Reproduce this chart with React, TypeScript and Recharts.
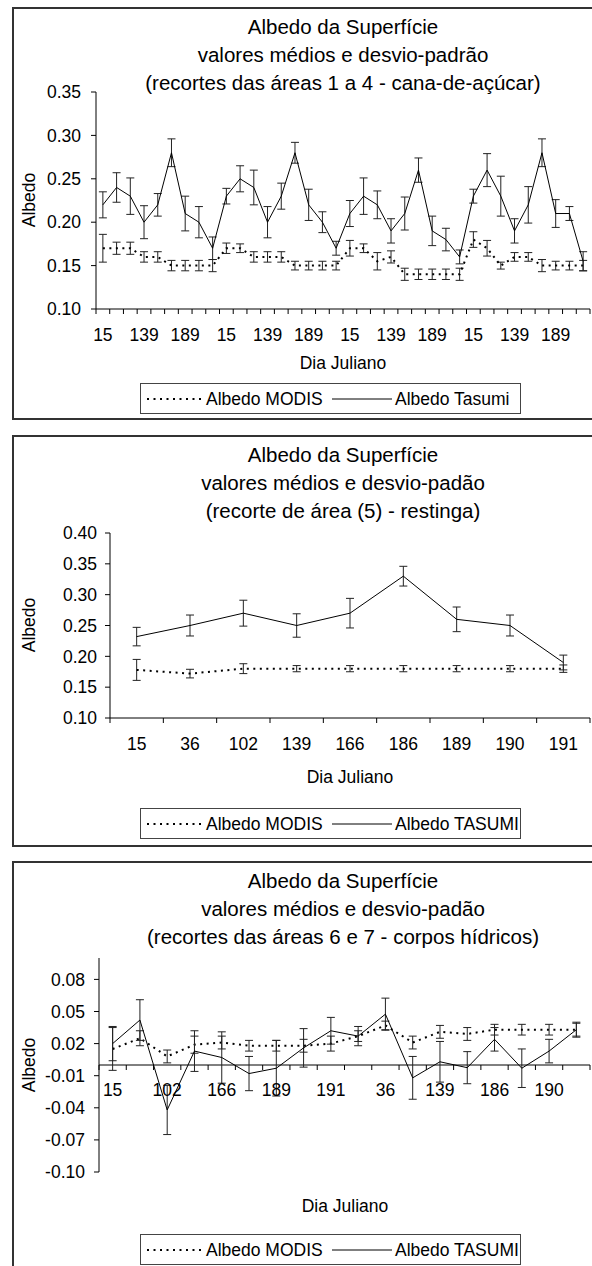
import React from 'react';
import { LineChart, Line, XAxis, YAxis, ErrorBar, ReferenceLine } from 'recharts';

const FONT = '"Liberation Sans", Arial, Helvetica, sans-serif';

// ---------- Chart 1: áreas 1 a 4 - cana-de-açúcar ----------
const days1 = [
  '15', '36', '102', '139', '166', '186', '189', '190', '191',
  '15', '36', '102', '139', '166', '186', '189', '190', '191',
  '15', '36', '102', '139', '166', '186', '189', '190', '191',
  '15', '36', '102', '139', '166', '186', '189', '190', '191',
];
const modis1 = [
  0.17, 0.17, 0.17, 0.16, 0.16, 0.15, 0.15, 0.15, 0.15,
  0.17, 0.17, 0.16, 0.16, 0.16, 0.15, 0.15, 0.15, 0.15,
  0.17, 0.17, 0.155, 0.16, 0.14, 0.14, 0.14, 0.14, 0.14,
  0.18, 0.17, 0.15, 0.16, 0.16, 0.15, 0.15, 0.15, 0.15,
];
const modisErr1 = [
  0.016, 0.007, 0.007, 0.006, 0.006, 0.006, 0.006, 0.006, 0.007,
  0.006, 0.005, 0.006, 0.006, 0.006, 0.005, 0.005, 0.005, 0.005,
  0.009, 0.005, 0.01, 0.007, 0.007, 0.006, 0.006, 0.006, 0.007,
  0.009, 0.009, 0.004, 0.005, 0.005, 0.007, 0.005, 0.005, 0.006,
];
const tasumi1 = [
  0.22, 0.24, 0.23, 0.2, 0.22, 0.28, 0.21, 0.2, 0.17,
  0.23, 0.25, 0.24, 0.2, 0.23, 0.28, 0.22, 0.2, 0.17,
  0.21, 0.23, 0.22, 0.19, 0.21, 0.26, 0.19, 0.18, 0.16,
  0.23, 0.26, 0.23, 0.19, 0.22, 0.28, 0.21, 0.21, 0.155,
];
const tasumiErr1 = [
  0.015, 0.017, 0.021, 0.019, 0.013, 0.016, 0.02, 0.018, 0.013,
  0.009, 0.015, 0.02, 0.018, 0.015, 0.012, 0.018, 0.012, 0.008,
  0.015, 0.021, 0.016, 0.014, 0.019, 0.014, 0.017, 0.013, 0.008,
  0.008, 0.019, 0.023, 0.014, 0.021, 0.016, 0.016, 0.008, 0.011,
];
const yTicks1 = [0.1, 0.15, 0.2, 0.25, 0.3, 0.35];

// ---------- Chart 2: área 5 - restinga ----------
const days2 = ['15', '36', '102', '139', '166', '186', '189', '190', '191'];
const modis2 = [0.178, 0.172, 0.18, 0.18, 0.18, 0.18, 0.18, 0.18, 0.18];
const modisErr2 = [0.017, 0.007, 0.008, 0.005, 0.005, 0.005, 0.005, 0.005, 0.006];
const tasumi2 = [0.232, 0.25, 0.27, 0.25, 0.27, 0.33, 0.26, 0.25, 0.19];
const tasumiErr2 = [0.015, 0.017, 0.021, 0.019, 0.024, 0.016, 0.02, 0.017, 0.012];
const yTicks2 = [0.1, 0.15, 0.2, 0.25, 0.3, 0.35, 0.4];

// ---------- Chart 3: áreas 6 e 7 - corpos hídricos ----------
const days3 = [
  '15', '36', '102', '139', '166', '186', '189', '190', '191',
  '15', '36', '102', '139', '166', '186', '189', '190', '191',
];
const modis3 = [
  0.015, 0.025, 0.008, 0.019, 0.021, 0.018, 0.018, 0.018, 0.02,
  0.027, 0.037, 0.021, 0.031, 0.029, 0.033, 0.033, 0.033, 0.033,
];
const modisErr3 = [
  0.02, 0.007, 0.006, 0.008, 0.006, 0.005, 0.005, 0.006, 0.007,
  0.005, 0.004, 0.006, 0.006, 0.006, 0.005, 0.005, 0.005, 0.006,
];
const tasumi3 = [
  0.02, 0.042, -0.042, 0.013, 0.007, -0.008, -0.003, 0.016, 0.032,
  0.027, 0.0475, -0.012, 0.003, -0.0025, 0.024, -0.003, 0.013, 0.033,
];
const tasumiErr3 = [
  0.016, 0.019, 0.023, 0.019, 0.024, 0.016, 0.026, 0.018, 0.0125,
  0.009, 0.015, 0.02, 0.019, 0.015, 0.011, 0.018, 0.011, 0.007,
];
const yTicks3 = [-0.1, -0.07, -0.04, -0.01, 0.02, 0.05, 0.08];

function buildRows(cats: string[], m: number[], me: number[], t: number[], te: number[]) {
  return cats.map((c, i) => ({
    x: i + 0.5,
    day: c,
    modis: m[i],
    modisErr: me[i],
    tasumi: t[i],
    tasumiErr: te[i],
  }));
}

function buildXTicks(n: number, every: number) {
  const ticks: number[] = [];
  for (let i = 0; i <= n; i++) ticks.push(i);
  for (let i = 0; i < n; i += every) ticks.push(i + 0.5);
  return ticks.sort((a, b) => a - b);
}

const TXT = 17.5;
const DOTS = '2 4.5';

function CatTick(props: any) {
  const { x, y, payload, cats, shift, labelDy } = props;
  const v = payload.value as number;
  const yy = y + shift;
  if (Number.isInteger(v)) {
    return <line x1={x} x2={x} y1={yy} y2={yy + 5} stroke="#000" strokeWidth={1} />;
  }
  return (
    <text
      x={x}
      y={yy + labelDy}
      textAnchor="middle"
      dominantBaseline="central"
      fontSize={TXT}
      fontFamily={FONT}
      fill="#000"
    >
      {cats[Math.floor(v)]}
    </text>
  );
}

type ChartProps = {
  top: number;
  height: number;
  plotTop: number;
  plotBottom: number;
  plotLeft: number;
  cats: string[];
  rows: any[];
  yDomain: [number, number];
  yTicks: number[];
  labelEvery: number;
  tickMargin: number;
  zeroAxis?: boolean;
};

function AlbedoChart(p: ChartProps) {
  const n = p.cats.length;
  const xTicks = buildXTicks(n, p.labelEvery);
  const plotH = p.plotBottom - p.plotTop;
  const mTop = p.plotTop - p.top;
  const xAxisH = 30;
  const mBottom = p.height - mTop - plotH - xAxisH;
  const shift = p.zeroAxis ? -plotH / 2 : 0;
  return (
    <div style={{ position: 'absolute', left: 0, top: p.top }}>
      <LineChart
        width={592}
        height={p.height}
        data={p.rows}
        margin={{ top: mTop, right: 2, left: 20, bottom: mBottom }}
      >
        <XAxis
          type="number"
          dataKey="x"
          domain={[0, n]}
          ticks={xTicks}
          interval={0}
          allowDataOverflow
          height={xAxisH}
          tickSize={0}
          tickMargin={0}
          tickLine={false}
          axisLine={p.zeroAxis ? false : { stroke: '#000', strokeWidth: 1 }}
          tick={(tp: any) => (
            <CatTick {...tp} cats={p.cats} shift={shift} labelDy={p.zeroAxis ? 25 : 26} />
          )}
        />
        <YAxis
          type="number"
          domain={p.yDomain}
          ticks={p.yTicks}
          interval={0}
          allowDataOverflow
          width={p.plotLeft - 20}
          tickSize={5}
          tickMargin={p.tickMargin}
          tickFormatter={(v: number) => v.toFixed(2)}
          axisLine={{ stroke: '#000', strokeWidth: 1 }}
          tickLine={{ stroke: '#000', strokeWidth: 1 }}
          tick={{ fill: '#000', fontSize: TXT, fontFamily: FONT }}
        />
        {p.zeroAxis && <ReferenceLine y={0} stroke="#000" strokeWidth={1} ifOverflow="extendDomain" />}
        <Line
          type="linear"
          dataKey="modis"
          stroke="#000"
          strokeWidth={2}
          strokeDasharray={DOTS}
          dot={false}
          activeDot={false}
          isAnimationActive={false}
        >
          <ErrorBar dataKey="modisErr" width={4} stroke="#222" strokeWidth={1} direction="y" isAnimationActive={false} />
        </Line>
        <Line
          type="linear"
          dataKey="tasumi"
          stroke="#000"
          strokeWidth={1}
          dot={false}
          activeDot={false}
          isAnimationActive={false}
        >
          <ErrorBar dataKey="tasumiErr" width={4} stroke="#222" strokeWidth={1} direction="y" isAnimationActive={false} />
        </Line>
      </LineChart>
    </div>
  );
}

function Titles({ top, lines }: { top: number; lines: string[] }) {
  return (
    <div
      style={{
        position: 'absolute',
        left: 0,
        width: 686,
        top,
        textAlign: 'center',
        fontFamily: FONT,
        fontSize: 20.5,
        lineHeight: '28px',
        color: '#000',
      }}
    >
      {lines.map((l, i) => (
        <div key={i}>{l}</div>
      ))}
    </div>
  );
}

function XTitle({ cx, cy }: { cx: number; cy: number }) {
  return (
    <div
      style={{
        position: 'absolute',
        left: cx - 100,
        width: 200,
        top: cy - 10,
        lineHeight: '20px',
        textAlign: 'center',
        fontFamily: FONT,
        fontSize: TXT,
        color: '#000',
      }}
    >
      Dia Juliano
    </div>
  );
}

function YTitle({ cx, cy }: { cx: number; cy: number }) {
  return (
    <div
      style={{
        position: 'absolute',
        left: cx - 50,
        width: 100,
        top: cy - 10,
        lineHeight: '20px',
        textAlign: 'center',
        fontFamily: FONT,
        fontSize: TXT,
        color: '#000',
        transform: 'rotate(-90deg)',
      }}
    >
      Albedo
    </div>
  );
}

function LegendBox({ top, second }: { top: number; second: string }) {
  return (
    <div
      style={{
        position: 'absolute',
        left: 140,
        top,
        width: 381,
        height: 31,
        boxSizing: 'border-box',
        border: '1px solid #444',
        background: '#fff',
        fontFamily: FONT,
        fontSize: TXT,
        color: '#000',
      }}
    >
      <svg style={{ position: 'absolute', left: 6, top: 0 }} width={54} height={29}>
        <line x1={0} x2={54} y1={15} y2={15} stroke="#000" strokeWidth={2} strokeDasharray={DOTS} />
      </svg>
      <div style={{ position: 'absolute', left: 65, top: 4, lineHeight: '22px', whiteSpace: 'nowrap' }}>
        Albedo MODIS
      </div>
      <svg style={{ position: 'absolute', left: 191, top: 0 }} width={60} height={29}>
        <line x1={0} x2={60} y1={15} y2={15} stroke="#000" strokeWidth={1} />
      </svg>
      <div style={{ position: 'absolute', left: 254, top: 4, lineHeight: '22px', whiteSpace: 'nowrap' }}>
        {second}
      </div>
    </div>
  );
}

function Frame({ top, height }: { top: number; height: number }) {
  return (
    <div
      style={{
        position: 'absolute',
        left: 12,
        top,
        width: 700,
        height,
        boxSizing: 'border-box',
        border: '2px solid #333',
        background: '#fff',
      }}
    />
  );
}

export default function App() {
  const rows1 = buildRows(days1, modis1, modisErr1, tasumi1, tasumiErr1);
  const rows2 = buildRows(days2, modis2, modisErr2, tasumi2, tasumiErr2);
  const rows3 = buildRows(days3, modis3, modisErr3, tasumi3, tasumiErr3);
  return (
    <div
      style={{
        position: 'absolute',
        left: 0,
        top: 0,
        width: 592,
        height: 1266,
        overflow: 'hidden',
        background: '#fff',
      }}
    >
      {/* Chart 1 */}
      <Frame top={7} height={413} />
      <Titles
        top={13}
        lines={[
          'Albedo da Superfície',
          'valores médios e desvio-padrão',
          '(recortes das áreas 1 a 4 - cana-de-açúcar)',
        ]}
      />
      <AlbedoChart
        top={7}
        height={412}
        plotTop={92}
        plotBottom={309}
        plotLeft={96}
        cats={days1}
        rows={rows1}
        yDomain={[0.1, 0.35]}
        yTicks={yTicks1}
        labelEvery={3}
        tickMargin={10}
      />
      <YTitle cx={29} cy={200} />
      <XTitle cx={343} cy={363} />
      <LegendBox top={383} second="Albedo Tasumi" />

      {/* Chart 2 */}
      <Frame top={435} height={412} />
      <Titles
        top={441}
        lines={[
          'Albedo da Superfície',
          'valores médios e desvio-padão',
          '(recorte de área (5) - restinga)',
        ]}
      />
      <AlbedoChart
        top={435}
        height={412}
        plotTop={533}
        plotBottom={718}
        plotLeft={110}
        cats={days2}
        rows={rows2}
        yDomain={[0.1, 0.4]}
        yTicks={yTicks2}
        labelEvery={1}
        tickMargin={8}
      />
      <YTitle cx={29} cy={625} />
      <XTitle cx={350} cy={777} />
      <LegendBox top={808} second="Albedo TASUMI" />

      {/* Chart 3 */}
      <Frame top={861} height={500} />
      <Titles
        top={867}
        lines={[
          'Albedo da Superfície',
          'valores médios e desvio-padão',
          '(recortes das áreas 6 e 7 - corpos hídricos)',
        ]}
      />
      <AlbedoChart
        top={861}
        height={405}
        plotTop={958}
        plotBottom={1172}
        plotLeft={99}
        cats={days3}
        rows={rows3}
        yDomain={[-0.1, 0.1]}
        yTicks={yTicks3}
        labelEvery={2}
        tickMargin={9}
        zeroAxis
      />
      <YTitle cx={29} cy={1065} />
      <XTitle cx={345} cy={1206} />
      <LegendBox top={1234} second="Albedo TASUMI" />
    </div>
  );
}
